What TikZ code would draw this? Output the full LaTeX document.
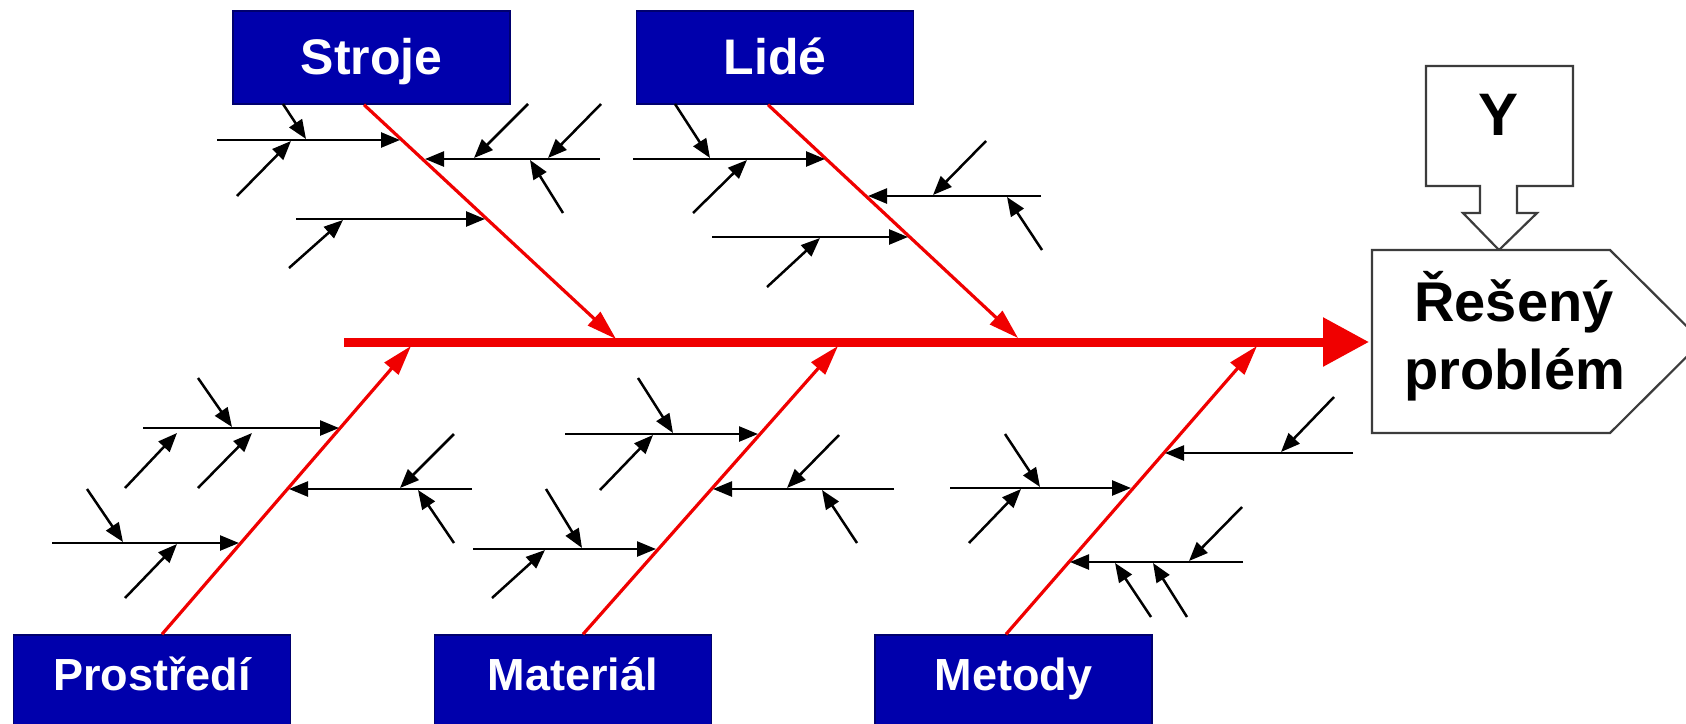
\documentclass[tikz,border=0pt]{standalone}
\usepackage{fontspec}
\setmainfont{Liberation Sans}
\usetikzlibrary{arrows.meta,calc}
\definecolor{boxblue}{RGB}{0,0,172}
\definecolor{boxedge}{RGB}{0,0,110}
\definecolor{fishred}{RGB}{240,0,0}
\definecolor{outl}{RGB}{60,60,60}
\tikzset{
  catbox/.style={rectangle, fill=boxblue, draw=boxedge, line width=1.5pt, text=white,
    inner sep=0pt, minimum width=277pt, minimum height=93pt},
  toplabel/.style={catbox, font=\bfseries\fontsize{50}{60}\selectfont, text height=36pt, text depth=3pt},
  botlabel/.style={catbox, font=\bfseries\fontsize{45}{54}\selectfont, text height=32pt, text depth=15pt},
  bone/.style={draw=black, line width=2.5pt, -{Triangle[length=19pt,width=15pt]}},
  branch/.style={draw=fishred, line width=3.2pt, -{Triangle[length=30pt,width=18pt]}},
  spine/.style={draw=fishred, line width=9pt, -{Triangle[length=46pt,width=47pt]}},
  outline/.style={draw=outl, line width=2.2pt, fill=white, line join=miter},
  bigtext/.style={font=\bfseries\fontsize{56}{68}\selectfont, text=black, inner sep=0pt, anchor=base}
}
\begin{document}
\begin{tikzpicture}[x=1pt,y=-1pt]
\useasboundingbox (0,0) rectangle (1686,723);
\fill[white] (0,0) rectangle (1686,723);
\clip (0,0) rectangle (1686,723);

% category boxes
\node[toplabel] (stroje) at (371.5,57.5) {Stroje};
\node[toplabel] (lide) at (775,57.5) {Lidé};
\node[botlabel] (prostredi) at (152,681.5) {Prostředí};
\node[botlabel] (material) at (573,681.5) {Materiál};
\node[botlabel] (metody) at (1013.5,681.5) {Metody};

% Y box with block arrow
\draw[outline] (1426,66) -- (1573,66) -- (1573,186) -- (1517,186) -- (1517,213) -- (1537,213)
  -- (1499,250) -- (1463,213) -- (1480,213) -- (1480,186) -- (1426,186) -- cycle;
\node[bigtext, font=\bfseries\fontsize{60}{70}\selectfont] (yy) at (1498,135) {Y};

% problem box
\draw[outline] (1372,250) -- (1610,250) -- (1702,341.5) -- (1610,433) -- (1372,433) -- cycle;
\node[bigtext] (p1) at (1514,321) {Řešený};
\node[bigtext] (p2) at (1515,389) {problém};

% spine
\coordinate (spinestart) at (344,342);
\coordinate (probW) at (1369,342);
\draw[spine] (spinestart) -- (probW);

% main branches
\coordinate (sj) at (616,339);
\coordinate (lj) at (1018,338);
\coordinate (pj) at (411,346);
\coordinate (mj) at (838,346);
\coordinate (tj) at (1257,346);
\draw[branch] ([xshift=-7.5pt]stroje.south) -- (sj);
\draw[branch] ([xshift=-7pt]lide.south) -- (lj);
\draw[branch] ([xshift=10pt]prostredi.north) -- (pj);
\draw[branch] ([xshift=10pt]material.north) -- (mj);
\draw[branch] ([xshift=-7.5pt]metody.north) -- (tj);

% Stroje bones
\draw[bone] (217,140) -- (400,140);
\draw[bone] (283,104) -- (306,139);
\draw[bone] (237,196) -- (291,141);
\draw[bone] (600,159) -- (425,159);
\draw[bone] (528,104) -- (474,158);
\draw[bone] (601,104) -- (548,158);
\draw[bone] (563,213) -- (530,160);
\draw[bone] (296,219) -- (485,219);
\draw[bone] (289,268) -- (343,220);

% Lide bones
\draw[bone] (633,159) -- (825,159);
\draw[bone] (675,104) -- (710,158);
\draw[bone] (693,213) -- (747,160);
\draw[bone] (1041,196) -- (868,196);
\draw[bone] (986,141) -- (933,195);
\draw[bone] (1042,250) -- (1007,197);
\draw[bone] (712,237) -- (908,237);
\draw[bone] (767,287) -- (820,238);

% Prostredi bones
\draw[bone] (143,428) -- (339,428);
\draw[bone] (198,378) -- (232,427);
\draw[bone] (125,488) -- (177,433);
\draw[bone] (198,488) -- (252,433);
\draw[bone] (472,489) -- (289,489);
\draw[bone] (454,434) -- (400,488);
\draw[bone] (454,543) -- (418,490);
\draw[bone] (52,543) -- (239,543);
\draw[bone] (87,489) -- (123,542);
\draw[bone] (125,598) -- (177,544);

% Material bones
\draw[bone] (565,434) -- (758,434);
\draw[bone] (638,378) -- (673,433);
\draw[bone] (600,490) -- (653,435);
\draw[bone] (894,489) -- (713,489);
\draw[bone] (839,435) -- (787,488);
\draw[bone] (857,543) -- (822,490);
\draw[bone] (473,549) -- (656,549);
\draw[bone] (546,489) -- (582,548);
\draw[bone] (492,598) -- (545,550);

% Metody bones
\draw[bone] (1353,453) -- (1165,453);
\draw[bone] (1334,397) -- (1281,452);
\draw[bone] (950,488) -- (1131,488);
\draw[bone] (1005,434) -- (1040,487);
\draw[bone] (969,543) -- (1021,489);
\draw[bone] (1243,562) -- (1070,562);
\draw[bone] (1242,507) -- (1189,561);
\draw[bone] (1151,617) -- (1115,563);
\draw[bone] (1187,617) -- (1153,563);
\end{tikzpicture}
\end{document}
